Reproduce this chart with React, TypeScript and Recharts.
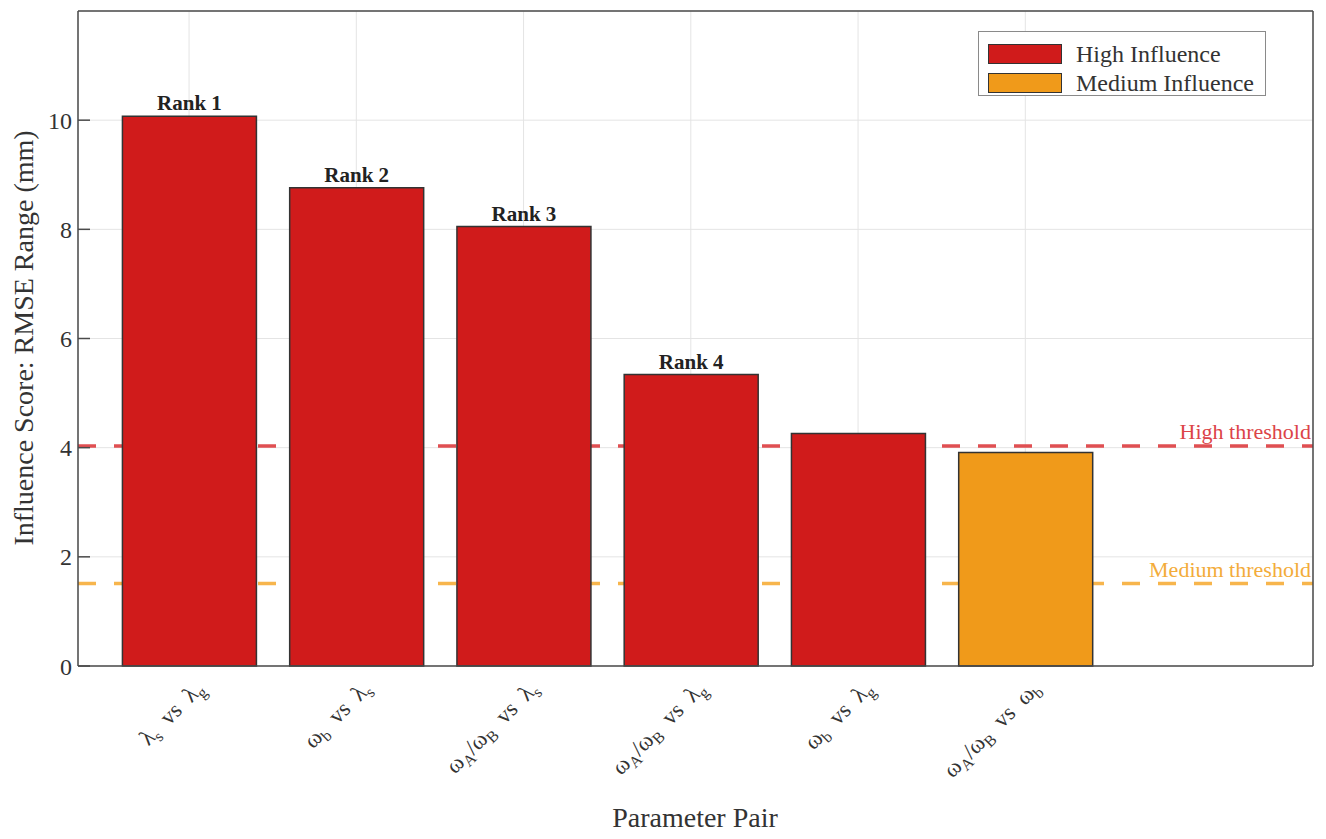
import {
	Bar,
	BarChart,
	CartesianGrid,
	Cell,
	LabelList,
	Legend,
	ReferenceLine,
	XAxis,
	YAxis,
} from "recharts";

const pairLabels = [
	"λ_s  vs  λ_g",
	"ω_b  vs  λ_s",
	"ω_A/ω_B  vs  λ_s",
	"ω_A/ω_B  vs  λ_g",
	"ω_b  vs  λ_g",
	"ω_A/ω_B  vs  ω_b",
];
const rmseRange = [10.07, 8.76, 8.05, 5.34, 4.26, 3.91];
const influenceLevel = ["High", "High", "High", "High", "High", "Medium"];
const rankLabels = ["Rank 1", "Rank 2", "Rank 3", "Rank 4", "", ""];
const yTicks = [0, 2, 4, 6, 8, 10];
const highThreshold = 4.03;
const mediumThreshold = 1.51;
const legendItems = ["High Influence", "Medium Influence"];

const FONT = "'Liberation Serif', 'Times New Roman', serif";
const levelColor: Record<string, string> = {
	High: "#d01b1b",
	Medium: "#f09a1a",
};
const AXIS = "#4a4a4a";

const chartData = pairLabels.map((label, i) => ({
	pos: i + 1,
	label,
	value: rmseRange[i],
	level: influenceLevel[i],
	rank: rankLabels[i],
}));
const xTicks = chartData.map((d) => d.pos);

// splits "ω_A/ω_B" into normal and subscript pieces
function PairTick({ x, y, payload }: any) {
	const label = pairLabels[payload.value - 1] ?? "";
	const parts = label.split(/(_\w)/).filter(Boolean);
	let prevSub = false;
	return (
		<text
			transform={`translate(${x + 16},${y + 22}) rotate(-45)`}
			textAnchor="end"
			fontFamily={FONT}
			fontSize={23}
			fill="#333"
			style={{ whiteSpace: "pre" }}
		>
			{parts.map((p, i) => {
				const isSub = p.startsWith("_");
				const dy = (isSub ? 5 : 0) - (prevSub ? 5 : 0);
				prevSub = isSub;
				return (
					<tspan key={i} dy={dy} fontSize={isSub ? 16 : 23}>
						{isSub ? p.slice(1) : p}
					</tspan>
				);
			})}
		</text>
	);
}

function ThresholdLabel({ viewBox, text, color }: any) {
	const { x, y, width } = viewBox;
	return (
		<text
			x={x + width - 2}
			y={y - 7}
			textAnchor="end"
			fill={color}
			fontSize={22}
			fontFamily={FONT}
		>
			{text}
		</text>
	);
}

function RankLabel({ x, y, width, value }: any) {
	if (!value) return null;
	return (
		<text
			x={x + width / 2}
			y={y - 6}
			textAnchor="middle"
			fontSize={21}
			fontWeight="bold"
			fontFamily={FONT}
			fill="#222"
		>
			{value}
		</text>
	);
}

function renderLegend() {
	return (
		<div
			style={{
				boxSizing: "border-box",
				width: 288,
				height: 65,
				border: "1px solid #8a8a8a",
				background: "#fff",
				padding: "7px 0 0 9px",
				fontFamily: FONT,
				fontSize: 24,
				color: "#333",
			}}
		>
			{legendItems.map((item, i) => (
				<div
					key={item}
					style={{
						display: "flex",
						alignItems: "center",
						height: 29,
					}}
				>
					<span
						style={{
							boxSizing: "border-box",
							width: 74,
							height: 20,
							background: levelColor[i === 0 ? "High" : "Medium"],
							border: "1px solid #333",
							marginRight: 14,
						}}
					/>
					<span style={{ lineHeight: "24px" }}>{item}</span>
				</div>
			))}
		</div>
	);
}

export default function App() {
	return (
		<div
			style={{
				position: "absolute",
				left: 0,
				top: 0,
				width: 1326,
				height: 839,
				background: "#fff",
			}}
		>
			<BarChart
				width={1326}
				height={839}
				data={chartData}
				margin={{ top: 10, right: 12, bottom: 172, left: 77 }}
			>
				<CartesianGrid stroke="#e4e4e4" strokeWidth={1} />
				<XAxis
					dataKey="pos"
					type="number"
					domain={[0.336, 7.72]}
					ticks={xTicks}
					height={1}
					tickSize={0}
					tickLine={false}
					tick={<PairTick />}
					axisLine={{ stroke: AXIS, strokeWidth: 1.5 }}
				/>
				<XAxis
					xAxisId="top"
					orientation="top"
					type="number"
					domain={[0.336, 7.72]}
					ticks={xTicks}
					height={1}
					tickSize={-12}
					tick={false}
					tickLine={{ stroke: AXIS, strokeWidth: 1.5 }}
					axisLine={{ stroke: AXIS, strokeWidth: 1.5 }}
				/>
				<YAxis
					domain={[0, 12]}
					ticks={yTicks}
					width={1}
					tickSize={-12}
					tickMargin={18}
					tick={{ fontSize: 24, fill: "#333", fontFamily: FONT }}
					tickLine={{ stroke: AXIS, strokeWidth: 1.5 }}
					axisLine={{ stroke: AXIS, strokeWidth: 1.5 }}
				/>
				<YAxis
					yAxisId="right"
					orientation="right"
					domain={[0, 12]}
					ticks={yTicks}
					width={1}
					tickSize={-12}
					tick={false}
					tickLine={{ stroke: AXIS, strokeWidth: 1.5 }}
					axisLine={{ stroke: AXIS, strokeWidth: 1.5 }}
				/>
				<ReferenceLine
					y={highThreshold}
					zIndex={100}
					stroke="#e04f52"
					strokeWidth={3.5}
					strokeDasharray="18 18"
					label={<ThresholdLabel text="High threshold" color="#dc4448" />}
				/>
				<ReferenceLine
					y={mediumThreshold}
					zIndex={100}
					stroke="#f7b54c"
					strokeWidth={3.5}
					strokeDasharray="18 18"
					label={<ThresholdLabel text="Medium threshold" color="#f3ac3a" />}
				/>
				<Bar
					dataKey="value"
					barSize={134}
					stroke="#333"
					strokeWidth={1.5}
					isAnimationActive={false}
				>
					{chartData.map((d) => (
						<Cell key={d.pos} fill={levelColor[d.level]} />
					))}
					<LabelList dataKey="rank" content={<RankLabel />} />
				</Bar>
				<Legend
					layout="horizontal"
					verticalAlign="middle"
					align="center"
					content={renderLegend}
					wrapperStyle={{ left: 978, top: 31, width: 288, height: 65 }}
				/>
			</BarChart>
			<div
				style={{
					position: "absolute",
					left: 24,
					top: 338,
					transform: "translate(-50%, -50%) rotate(-90deg)",
					whiteSpace: "nowrap",
					fontFamily: FONT,
					fontSize: 28,
					color: "#333",
				}}
			>
				Influence Score: RMSE Range (mm)
			</div>
			<div
				style={{
					position: "absolute",
					left: 695,
					top: 818,
					transform: "translate(-50%, -50%)",
					whiteSpace: "nowrap",
					fontFamily: FONT,
					fontSize: 28,
					color: "#333",
				}}
			>
				Parameter Pair
			</div>
		</div>
	);
}
